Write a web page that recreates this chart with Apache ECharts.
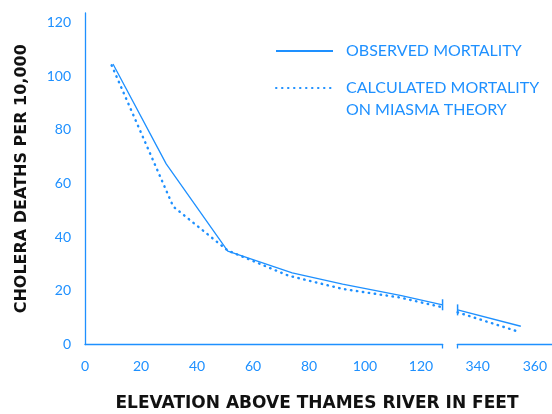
<!DOCTYPE html>
<html><head><meta charset="utf-8">
<script src="https://cdn.jsdelivr.net/npm/echarts@6/dist/echarts.min.js"></script>
<style>html,body{margin:0;padding:0;background:#fff}#c{width:552px;height:414px}</style>
</head><body><div id="c"></div>
<script>
// ---- data ----
const xTicksLeft = [0, 20, 40, 60, 80, 100, 120];
const xTicksRight = [340, 360];
const yTicks = [0, 20, 40, 60, 80, 100, 120];
const observedLeftX = [10, 29, 51, 74, 92, 113, 127.7];
const observedLeftY = [104.5, 67.3, 34.8, 26.7, 22.5, 18.2, 14.8];
const calculatedLeftX = [9.5, 31.5, 51, 72.5, 92, 112.5, 127.5];
const calculatedLeftY = [104, 51.4, 35, 25.7, 20.7, 17.5, 13.9];
const observedRightX = [333, 355.1];
const observedRightY = [12.9, 6.8];
const calculatedRightX = [333, 354.8];
const calculatedRightY = [12.0, 4.6];
const leftRange = [0, 127.75];
const rightRange = [332.9, 366];
const yRange = [0, 123.5];
const nameObserved = 'OBSERVED MORTALITY';
const nameCalculated = 'CALCULATED MORTALITY';
const calculatedSecondLine = 'ON MIASMA THEORY';
const yTitle = 'CHOLERA DEATHS PER 10,000';
const xTitle = 'ELEVATION ABOVE THAMES RIVER IN FEET';

// ---- styles ----
const BLUE = '#1e90ff';
const FONT = 'Lato';
const TITLE_FONT = 'DejaVu Sans';
const breakMark = { symbol: 'rect', symbolSize: [1.5, 11] };

function pairs(xs, ys, breakIndex) {
  return xs.map((x, i) => i === breakIndex
    ? Object.assign({ value: [x, ys[i]] }, breakMark)
    : { value: [x, ys[i]] });
}

const solidStyle = { color: BLUE, width: 1.3 };
const dotStyle = { color: BLUE, width: 2.4, type: [0.5, 5.5], cap: 'round' };

const chart = echarts.init(document.getElementById('c'), null, { renderer: 'canvas' });
const labelStyle = { color: BLUE, fontSize: 14, fontFamily: FONT };
const legendText = { color: BLUE, fontSize: 16, fontFamily: FONT, lineHeight: 22, padding: [0, 0, 0, 8] };

chart.setOption({
  animation: false,
  grid: [
    { left: 85, width: 357.7, top: 13, bottom: 69.5 },
    { left: 457.3, right: 0, top: 13, bottom: 69.5 }
  ],
  xAxis: [
    {
      gridIndex: 0, type: 'value', min: leftRange[0], max: leftRange[1],
      axisLine: { lineStyle: { color: BLUE, width: 1.3 } },
      axisTick: { show: true, customValues: [leftRange[1]], length: 4, lineStyle: { color: BLUE, width: 1.3 } },
      axisLabel: Object.assign({ customValues: xTicksLeft, margin: 15, showMinLabel: true, hideOverlap: false }, labelStyle),
      splitLine: { show: false }
    },
    {
      gridIndex: 1, type: 'value', min: rightRange[0], max: rightRange[1],
      axisLine: { lineStyle: { color: BLUE, width: 1.3 } },
      axisTick: { show: true, customValues: [rightRange[0]], length: 4, lineStyle: { color: BLUE, width: 1.3 } },
      axisLabel: Object.assign({ customValues: xTicksRight, margin: 15 }, labelStyle),
      splitLine: { show: false }
    }
  ],
  yAxis: [
    {
      gridIndex: 0, type: 'value', min: yRange[0], max: yRange[1],
      axisLine: { show: true, lineStyle: { color: BLUE, width: 1.3 } },
      axisTick: { show: false },
      axisLabel: Object.assign({ customValues: yTicks, margin: 14, showMinLabel: true }, labelStyle),
      splitLine: { show: false },
      name: yTitle, nameLocation: 'middle', nameGap: 55,
      nameTextStyle: { color: '#111', fontSize: 16, fontWeight: 'bold', fontFamily: TITLE_FONT }
    },
    { gridIndex: 1, type: 'value', min: yRange[0], max: yRange[1], show: false }
  ],
  legend: [
    {
      data: [nameObserved], left: 275, top: 40, padding: 0,
      itemWidth: 57, itemHeight: 14, itemStyle: { opacity: 0 },
      textStyle: legendText
    },
    {
      data: [nameCalculated], left: 275, top: 55, padding: 0,
      itemWidth: 57, itemHeight: 14, itemStyle: { opacity: 0 },
      formatter: n => '\n' + n + '\n' + calculatedSecondLine,
      textStyle: legendText
    }
  ],
  graphic: [
    {
      type: 'text', x: 317, y: 404,
      style: { text: xTitle, fill: '#111', font: 'bold 17px "' + TITLE_FONT + '"', textAlign: 'center', textVerticalAlign: 'middle' }
    }
  ],
  series: [
    { name: nameObserved, type: 'line', xAxisIndex: 0, yAxisIndex: 0, symbol: 'none', clip: false,
      itemStyle: { color: BLUE }, lineStyle: solidStyle, data: pairs(observedLeftX, observedLeftY, observedLeftX.length - 1) },
    { name: nameCalculated, type: 'line', xAxisIndex: 0, yAxisIndex: 0, symbol: 'none', clip: false,
      itemStyle: { color: BLUE }, lineStyle: dotStyle, data: pairs(calculatedLeftX, calculatedLeftY, -1) },
    { name: nameObserved, type: 'line', xAxisIndex: 1, yAxisIndex: 1, symbol: 'none', clip: false,
      itemStyle: { color: BLUE }, lineStyle: solidStyle, data: pairs(observedRightX, observedRightY, 0) },
    { name: nameCalculated, type: 'line', xAxisIndex: 1, yAxisIndex: 1, symbol: 'none', clip: false,
      itemStyle: { color: BLUE }, lineStyle: dotStyle, data: pairs(calculatedRightX, calculatedRightY, -1) }
  ]
});
</script>
</body></html>
